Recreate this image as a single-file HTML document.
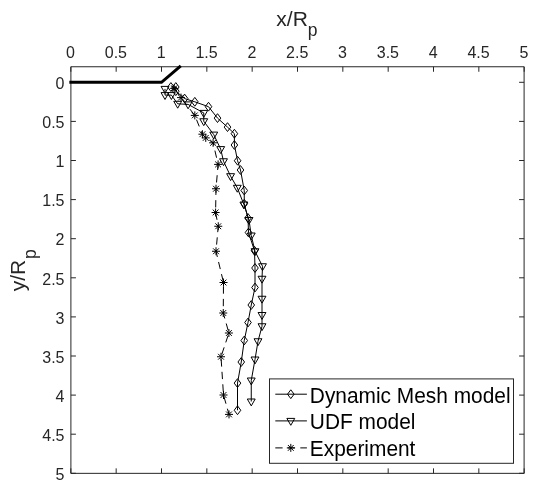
<!DOCTYPE html><html><head><meta charset="utf-8"><style>html,body{margin:0;padding:0;background:#fff;}svg{display:block;}text{font-family:"Liberation Sans",Arial,Helvetica,sans-serif;}</style></head><body>
<svg width="537" height="488" viewBox="0 0 537 488">
<rect width="537" height="488" fill="#fff"/>
<g fill="none" stroke="#262626" stroke-width="1">
<path d="M70.9,66.75H524.1V473.35H70.9Z"/>
<path d="M70.83,66.75v5M70.83,473.35v-5M70.9,82.30h5M524.1,82.30h-5M116.16,66.75v5M116.16,473.35v-5M70.9,121.40h5M524.1,121.40h-5M161.50,66.75v5M161.50,473.35v-5M70.9,160.50h5M524.1,160.50h-5M206.83,66.75v5M206.83,473.35v-5M70.9,199.60h5M524.1,199.60h-5M252.17,66.75v5M252.17,473.35v-5M70.9,238.70h5M524.1,238.70h-5M297.50,66.75v5M297.50,473.35v-5M70.9,277.80h5M524.1,277.80h-5M342.84,66.75v5M342.84,473.35v-5M70.9,316.90h5M524.1,316.90h-5M388.18,66.75v5M388.18,473.35v-5M70.9,356.00h5M524.1,356.00h-5M433.51,66.75v5M433.51,473.35v-5M70.9,395.10h5M524.1,395.10h-5M478.84,66.75v5M478.84,473.35v-5M70.9,434.20h5M524.1,434.20h-5M524.18,66.75v5M524.18,473.35v-5M70.9,473.30h5M524.1,473.30h-5"/>
</g>
<g fill="#262626" font-size="16">
<text x="70.53" y="58.0" text-anchor="middle">0</text>
<text x="115.86" y="58.0" text-anchor="middle">0.5</text>
<text x="161.20" y="58.0" text-anchor="middle">1</text>
<text x="206.53" y="58.0" text-anchor="middle">1.5</text>
<text x="251.87" y="58.0" text-anchor="middle">2</text>
<text x="297.20" y="58.0" text-anchor="middle">2.5</text>
<text x="342.54" y="58.0" text-anchor="middle">3</text>
<text x="387.88" y="58.0" text-anchor="middle">3.5</text>
<text x="433.21" y="58.0" text-anchor="middle">4</text>
<text x="478.54" y="58.0" text-anchor="middle">4.5</text>
<text x="523.88" y="58.0" text-anchor="middle">5</text>
<text x="64.5" y="89.00" text-anchor="end">0</text>
<text x="64.5" y="128.10" text-anchor="end">0.5</text>
<text x="64.5" y="167.20" text-anchor="end">1</text>
<text x="64.5" y="206.30" text-anchor="end">1.5</text>
<text x="64.5" y="245.40" text-anchor="end">2</text>
<text x="64.5" y="284.50" text-anchor="end">2.5</text>
<text x="64.5" y="323.60" text-anchor="end">3</text>
<text x="64.5" y="362.70" text-anchor="end">3.5</text>
<text x="64.5" y="401.80" text-anchor="end">4</text>
<text x="64.5" y="440.90" text-anchor="end">4.5</text>
<text x="64.5" y="480.00" text-anchor="end">5</text>
</g>
<text fill="#262626" font-size="21" x="276.3" y="25.6">x/R<tspan font-size="17.5" dy="10.65">p</tspan></text>
<text fill="#262626" font-size="21" transform="translate(24.9,291.25) rotate(-90)">y/R<tspan font-size="17.5" dx="0.7" dy="10.65">p</tspan></text>
<path d="M70.83,82.30L161.50,82.30L179.63,66.75" fill="none" stroke="#000" stroke-width="3" stroke-linecap="square"/>
<g fill="none" stroke="#000" stroke-width="1">
<polyline points="170.90,87.00 175.80,87.00 175.80,91.20 184.70,98.60 194.80,101.80 208.50,106.70 217.50,118.10 227.50,127.10 234.40,133.70 234.40,145.00 237.60,160.75 240.50,170.00 244.25,190.50 244.25,203.75 248.00,218.00 248.50,232.50 254.50,250.75 255.00,268.00 255.00,287.50 251.25,305.00 248.00,322.50 244.25,340.50 241.25,362.00 237.50,383.10 237.50,410.25"/>
<polyline points="165.00,88.90 165.00,95.10 171.40,95.10 177.70,103.80 188.10,104.40 203.75,112.90 203.75,121.25 213.75,134.60 220.70,149.10 223.50,161.25 230.60,176.20 237.30,187.80 243.90,204.50 249.00,220.00 251.25,235.50 255.00,251.25 262.50,266.25 262.00,278.75 262.00,298.75 262.00,315.00 262.00,326.25 258.00,341.25 255.00,359.50 251.25,380.50 251.25,401.50"/>
<polyline points="174.20,88.40 181.00,97.60 194.80,115.40 202.40,134.20 205.75,137.90 213.10,142.80 218.10,164.40 216.00,188.75 215.60,212.50 218.25,226.25 216.00,251.25 223.50,282.50 223.25,313.00 228.90,333.00 221.00,356.75 223.50,395.00 229.00,414.40" stroke-dasharray="7.3,5.2" stroke-dashoffset="11.43"/>
<path d="M170.90,82.60L174.20,87.00L170.90,91.40L167.60,87.00Z"/><path d="M175.80,82.60L179.10,87.00L175.80,91.40L172.50,87.00Z"/><path d="M175.80,86.80L179.10,91.20L175.80,95.60L172.50,91.20Z"/><path d="M184.70,94.20L188.00,98.60L184.70,103.00L181.40,98.60Z"/><path d="M194.80,97.40L198.10,101.80L194.80,106.20L191.50,101.80Z"/><path d="M208.50,102.30L211.80,106.70L208.50,111.10L205.20,106.70Z"/><path d="M217.50,113.70L220.80,118.10L217.50,122.50L214.20,118.10Z"/><path d="M227.50,122.70L230.80,127.10L227.50,131.50L224.20,127.10Z"/><path d="M234.40,129.30L237.70,133.70L234.40,138.10L231.10,133.70Z"/><path d="M234.40,140.60L237.70,145.00L234.40,149.40L231.10,145.00Z"/><path d="M237.60,156.35L240.90,160.75L237.60,165.15L234.30,160.75Z"/><path d="M240.50,165.60L243.80,170.00L240.50,174.40L237.20,170.00Z"/><path d="M244.25,186.10L247.55,190.50L244.25,194.90L240.95,190.50Z"/><path d="M244.25,199.35L247.55,203.75L244.25,208.15L240.95,203.75Z"/><path d="M248.00,213.60L251.30,218.00L248.00,222.40L244.70,218.00Z"/><path d="M248.50,228.10L251.80,232.50L248.50,236.90L245.20,232.50Z"/><path d="M254.50,246.35L257.80,250.75L254.50,255.15L251.20,250.75Z"/><path d="M255.00,263.60L258.30,268.00L255.00,272.40L251.70,268.00Z"/><path d="M255.00,283.10L258.30,287.50L255.00,291.90L251.70,287.50Z"/><path d="M251.25,300.60L254.55,305.00L251.25,309.40L247.95,305.00Z"/><path d="M248.00,318.10L251.30,322.50L248.00,326.90L244.70,322.50Z"/><path d="M244.25,336.10L247.55,340.50L244.25,344.90L240.95,340.50Z"/><path d="M241.25,357.60L244.55,362.00L241.25,366.40L237.95,362.00Z"/><path d="M237.50,378.70L240.80,383.10L237.50,387.50L234.20,383.10Z"/><path d="M237.50,405.85L240.80,410.25L237.50,414.65L234.20,410.25Z"/>
<path d="M161.05,86.40L168.95,86.40L165.00,93.30Z"/><path d="M161.05,92.60L168.95,92.60L165.00,99.50Z"/><path d="M167.45,92.60L175.35,92.60L171.40,99.50Z"/><path d="M173.75,101.30L181.65,101.30L177.70,108.20Z"/><path d="M184.15,101.90L192.05,101.90L188.10,108.80Z"/><path d="M199.80,110.40L207.70,110.40L203.75,117.30Z"/><path d="M199.80,118.75L207.70,118.75L203.75,125.65Z"/><path d="M209.80,132.10L217.70,132.10L213.75,139.00Z"/><path d="M216.75,146.60L224.65,146.60L220.70,153.50Z"/><path d="M219.55,158.75L227.45,158.75L223.50,165.65Z"/><path d="M226.65,173.70L234.55,173.70L230.60,180.60Z"/><path d="M233.35,185.30L241.25,185.30L237.30,192.20Z"/><path d="M239.95,202.00L247.85,202.00L243.90,208.90Z"/><path d="M245.05,217.50L252.95,217.50L249.00,224.40Z"/><path d="M247.30,233.00L255.20,233.00L251.25,239.90Z"/><path d="M251.05,248.75L258.95,248.75L255.00,255.65Z"/><path d="M258.55,263.75L266.45,263.75L262.50,270.65Z"/><path d="M258.05,276.25L265.95,276.25L262.00,283.15Z"/><path d="M258.05,296.25L265.95,296.25L262.00,303.15Z"/><path d="M258.05,312.50L265.95,312.50L262.00,319.40Z"/><path d="M258.05,323.75L265.95,323.75L262.00,330.65Z"/><path d="M254.05,338.75L261.95,338.75L258.00,345.65Z"/><path d="M251.05,357.00L258.95,357.00L255.00,363.90Z"/><path d="M247.30,378.00L255.20,378.00L251.25,384.90Z"/><path d="M247.30,399.00L255.20,399.00L251.25,405.90Z"/>
<path d="M170.20,88.40H178.20M174.20,84.40V92.40M171.30,85.50L177.10,91.30M171.30,91.30L177.10,85.50"/><path d="M177.00,97.60H185.00M181.00,93.60V101.60M178.10,94.70L183.90,100.50M178.10,100.50L183.90,94.70"/><path d="M190.80,115.40H198.80M194.80,111.40V119.40M191.90,112.50L197.70,118.30M191.90,118.30L197.70,112.50"/><path d="M198.40,134.20H206.40M202.40,130.20V138.20M199.50,131.30L205.30,137.10M199.50,137.10L205.30,131.30"/><path d="M201.75,137.90H209.75M205.75,133.90V141.90M202.85,135.00L208.65,140.80M202.85,140.80L208.65,135.00"/><path d="M209.10,142.80H217.10M213.10,138.80V146.80M210.20,139.90L216.00,145.70M210.20,145.70L216.00,139.90"/><path d="M214.10,164.40H222.10M218.10,160.40V168.40M215.20,161.50L221.00,167.30M215.20,167.30L221.00,161.50"/><path d="M212.00,188.75H220.00M216.00,184.75V192.75M213.10,185.85L218.90,191.65M213.10,191.65L218.90,185.85"/><path d="M211.60,212.50H219.60M215.60,208.50V216.50M212.70,209.60L218.50,215.40M212.70,215.40L218.50,209.60"/><path d="M214.25,226.25H222.25M218.25,222.25V230.25M215.35,223.35L221.15,229.15M215.35,229.15L221.15,223.35"/><path d="M212.00,251.25H220.00M216.00,247.25V255.25M213.10,248.35L218.90,254.15M213.10,254.15L218.90,248.35"/><path d="M219.50,282.50H227.50M223.50,278.50V286.50M220.60,279.60L226.40,285.40M220.60,285.40L226.40,279.60"/><path d="M219.25,313.00H227.25M223.25,309.00V317.00M220.35,310.10L226.15,315.90M220.35,315.90L226.15,310.10"/><path d="M224.90,333.00H232.90M228.90,329.00V337.00M226.00,330.10L231.80,335.90M226.00,335.90L231.80,330.10"/><path d="M217.00,356.75H225.00M221.00,352.75V360.75M218.10,353.85L223.90,359.65M218.10,359.65L223.90,353.85"/><path d="M219.50,395.00H227.50M223.50,391.00V399.00M220.60,392.10L226.40,397.90M220.60,397.90L226.40,392.10"/><path d="M225.00,414.40H233.00M229.00,410.40V418.40M226.10,411.50L231.90,417.30M226.10,417.30L231.90,411.50"/>
</g>
<rect x="269.5" y="378.9" width="244.0" height="84.40000000000003" fill="#fff" stroke="#262626" stroke-width="1"/>
<g fill="none" stroke="#000" stroke-width="1">
<path d="M275.3,394.2H306.9M275.3,420.9H306.9"/>
<path d="M275.3,447.9H306.9" stroke-dasharray="7.3,5.2"/>
<path d="M290.80,389.80L294.10,394.20L290.80,398.60L287.50,394.20Z"/><path d="M286.85,418.40L294.75,418.40L290.80,425.30Z"/><path d="M286.80,447.90H294.80M290.80,443.90V451.90M287.90,445.00L293.70,450.80M287.90,450.80L293.70,445.00"/>
</g>
<g fill="#000" font-size="22">
<text transform="translate(309.8,402.5) scale(0.95,1)">Dynamic Mesh model</text>
<text transform="translate(309.8,429.1) scale(0.95,1)">UDF model</text>
<text transform="translate(309.8,455.7) scale(0.95,1)">Experiment</text>
</g>
</svg></body></html>
